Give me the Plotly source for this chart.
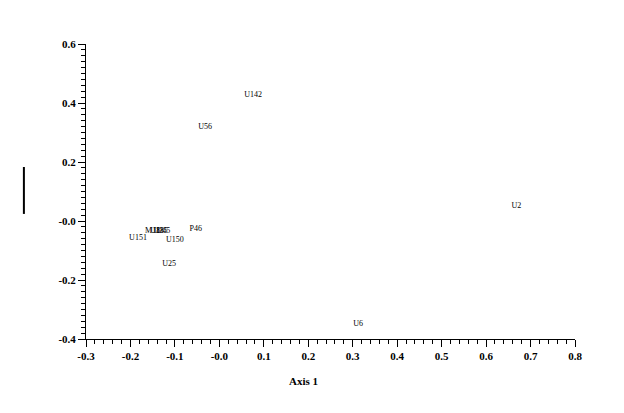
import plotly.graph_objects as go

labels = ["U142", "U56", "U2", "U6", "P46", "U151", "U150", "U25", "M18", "U18", "U35", "U45"]
axis1 = [0.076, -0.032, 0.668, 0.312, -0.053, -0.183, -0.100, -0.113, -0.150, -0.140, -0.132, -0.126]
axis2 = [0.427, 0.319, 0.051, -0.349, -0.027, -0.058, -0.064, -0.146, -0.033, -0.033, -0.033, -0.033]

x_ticks = [-0.3, -0.2, -0.1, 0.0, 0.1, 0.2, 0.3, 0.4, 0.5, 0.6, 0.7, 0.8]
x_ticktext = ["-0.3", "-0.2", "-0.1", "-0.0", "0.1", "0.2", "0.3", "0.4", "0.5", "0.6", "0.7", "0.8"]
y_ticks = [-0.4, -0.2, 0.0, 0.2, 0.4, 0.6]
y_ticktext = ["-0.4", "-0.2", "-0.0", "0.2", "0.4", "0.6"]

font_family = "Liberation Serif"

fig = go.Figure()
fig.add_trace(go.Scatter(
    x=axis1, y=axis2, text=labels, mode="text",
    textposition="middle center",
    textfont=dict(family=font_family, size=8, color="#000000"),
    hoverinfo="text",
))

axis_common = dict(
    showline=True, linecolor="black", linewidth=1,
    showgrid=False, zeroline=False,
    ticks="outside", ticklen=7, tickcolor="black", tickwidth=1,
    tickfont=dict(family=font_family, size=11, color="black", weight="bold"),
    minor=dict(ticks="outside", ticklen=4, tickcolor="black", tickwidth=1, dtick=0.02, showgrid=False),
)

fig.update_layout(
    width=616, height=405,
    margin=dict(l=78, r=49, t=36, b=74),
    paper_bgcolor="white", plot_bgcolor="white",
    showlegend=False,
    xaxis=dict(range=[-0.3, 0.8], tickvals=x_ticks, ticktext=x_ticktext, **axis_common),
    yaxis=dict(range=[-0.4, 0.6], tickvals=y_ticks, ticktext=y_ticktext, **axis_common),
)

fig.add_annotation(text="Axis 1", xref="paper", yref="paper", x=0.444, y=-0.142,
                   showarrow=False, xanchor="center", yanchor="middle",
                   font=dict(family=font_family, size=11, color="black", weight="bold"))

fig.add_shape(type="line", xref="paper", yref="paper",
              x0=-0.127, x1=-0.127, y0=0.424, y1=0.583,
              line=dict(color="black", width=2))

fig.write_html("out.html")
